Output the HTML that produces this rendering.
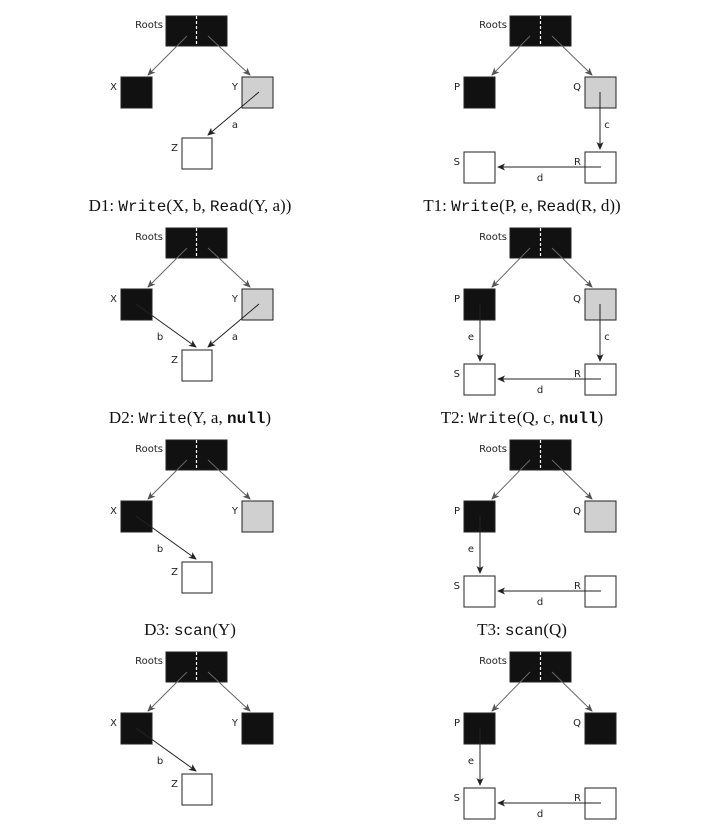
<!DOCTYPE html>
<html><head><meta charset="utf-8"><style>
html,body{margin:0;padding:0;background:#fff}
svg{display:block}
.lbl{font-family:"DejaVu Sans","Liberation Sans",sans-serif;font-size:10px;fill:#222}
.cap{font-family:"Liberation Serif",serif;font-size:17px;fill:#111}
.mono{font-family:"Liberation Mono",monospace;font-size:16px}
</style></head><body>
<svg id="fig" width="718" height="828" viewBox="0 0 718 828" xmlns="http://www.w3.org/2000/svg">
<defs>
<marker id="ah" markerWidth="8" markerHeight="8" refX="7" refY="4" orient="auto" markerUnits="userSpaceOnUse"><path d="M0,0.5 L8,4 L0,7.5 L2,4 Z" fill="#222"/></marker>
<marker id="ahg" markerWidth="8" markerHeight="8" refX="7" refY="4" orient="auto" markerUnits="userSpaceOnUse"><path d="M0,0.5 L8,4 L0,7.5 L2,4 Z" fill="#555"/></marker>
</defs>
</svg>
<script>
const rowTops=[16,228,440,652];
const captionsL=[['D1: ','Write','(X, b, ','Read','(Y, a))'],['D2: ','Write','(Y, a, ','null',')'],['D3: ','scan','(Y)'],null];
const captionsR=[['T1: ','Write','(P, e, ','Read','(R, d))'],['T2: ','Write','(Q, c, ','null',')'],['T3: ','scan','(Q)'],null];
const grayNode=['#d0d0d0','#d0d0d0','#d0d0d0','#111'];
const qColor=['#d0d0d0','#d0d0d0','#d0d0d0','#111'];
const leftEdges=[['a'],['a','b'],['b'],['b']];
const rightEdges=[['c','d'],['e','c','d'],['e','d'],['e','d']];
const svg=document.getElementById('fig');
const NS='http://www.w3.org/2000/svg';
function el(tag,attrs,name,parent){const e=document.createElementNS(NS,tag);for(const k in attrs)e.setAttribute(k,attrs[k]);


(parent||svg).appendChild(e);return e;}
function txt(x,y,s,cls,name,anchor,p){const t=el('text',{x:x,y:y,class:cls,'text-anchor':anchor||'start'},name,p);t.textContent=s;return t;}
function box(x,y,w,h,fill,name,p){return el('rect',{x:x,y:y,width:w,height:h,fill:fill,stroke:'#222','stroke-width':1},name,p);}
function line(x1,y1,x2,y2,name,gray,p){return el('line',{x1:x1,y1:y1,x2:x2,y2:y2,stroke:gray?'#666':'#222','stroke-width':1,'marker-end':gray?'url(#ahg)':'url(#ah)'},name,p);}
function roots(x,y,p,pre){box(x,y,61,30,'#111',pre+'roots-box',p);
el('line',{x1:x+30.5,y1:y,x2:x+30.5,y2:y+30,stroke:'#fff','stroke-width':1.2,'stroke-dasharray':'3,2'},pre+'roots-divider',p);
txt(x-3,y+12,'Roots','lbl',pre+'roots-label','end',p);}
function caption(x,y,parts,name){const t=el('text',{x:x,y:y,class:'cap','text-anchor':'middle'},name);
parts.forEach((s,i)=>{const sp=document.createElementNS(NS,'tspan');sp.textContent=s;
if(i%2==1){sp.setAttribute('class','mono');if(s==='null')sp.setAttribute('font-weight','bold');}


t.appendChild(sp);});}
rowTops.forEach((t,r)=>{
 const gl=el('g',{},'left-panel-row-'+(r+1));
 const p='d'+(r+1)+'-';
 roots(166,t,gl,p);
 box(121,t+61,31,31,'#111',p+'node-x',gl);txt(117,t+74,'X','lbl',p+'label-x','end',gl);
 box(242,t+61,31,31,grayNode[r],p+'node-y',gl);txt(238,t+74,'Y','lbl',p+'label-y','end',gl);
 box(182,t+122,30,31,'#fff',p+'node-z',gl);txt(178,t+135,'Z','lbl',p+'label-z','end',gl);
 line(187,t+20,148,t+59,p+'root-to-x',true,gl);
 line(208,t+20,250,t+59,p+'root-to-y',true,gl);
 if(leftEdges[r].includes('a')){line(259,t+76,208,t+119,p+'edge-a',false,gl);txt(235,t+112,'a','lbl',p+'label-a','middle',gl);}
 if(leftEdges[r].includes('b')){line(136,t+76,196,t+119,p+'edge-b',false,gl);txt(160,t+112,'b','lbl',p+'label-b','middle',gl);}
 const gr=el('g',{},'right-panel-row-'+(r+1));
 const q='t'+(r+1)+'-';
 roots(510,t,gr,q);
 box(464,t+61,31,31,'#111',q+'node-p',gr);txt(460,t+74,'P','lbl',q+'label-p','end',gr);
 box(585,t+61,31,31,qColor[r],q+'node-q',gr);txt(581,t+74,'Q','lbl',q+'label-q','end',gr);
 box(464,t+136,31,31,'#fff',q+'node-s',gr);txt(460,t+149,'S','lbl',q+'label-s','end',gr);
 box(585,t+136,31,31,'#fff',q+'node-r',gr);txt(581,t+149,'R','lbl',q+'label-r','end',gr);
 line(530,t+20,492,t+59,q+'root-to-p',true,gr);
 line(552,t+20,592,t+59,q+'root-to-q',true,gr);
 if(rightEdges[r].includes('e')){line(480,t+76,480,t+133,q+'edge-e',false,gr);txt(471,t+112,'e','lbl',q+'label-e','middle',gr);}
 if(rightEdges[r].includes('c')){line(600,t+76,600,t+133,q+'edge-c',false,gr);txt(607,t+112,'c','lbl',q+'label-c','middle',gr);}
 if(rightEdges[r].includes('d')){line(601,t+151,498,t+151,q+'edge-d',false,gr);txt(540,t+165,'d','lbl',q+'label-d','middle',gr);}
 if(captionsL[r])caption(190,t+195,captionsL[r],'caption-d'+(r+1));
 if(captionsR[r])caption(522,t+195,captionsR[r],'caption-t'+(r+1));
});
</script>
</body></html>
